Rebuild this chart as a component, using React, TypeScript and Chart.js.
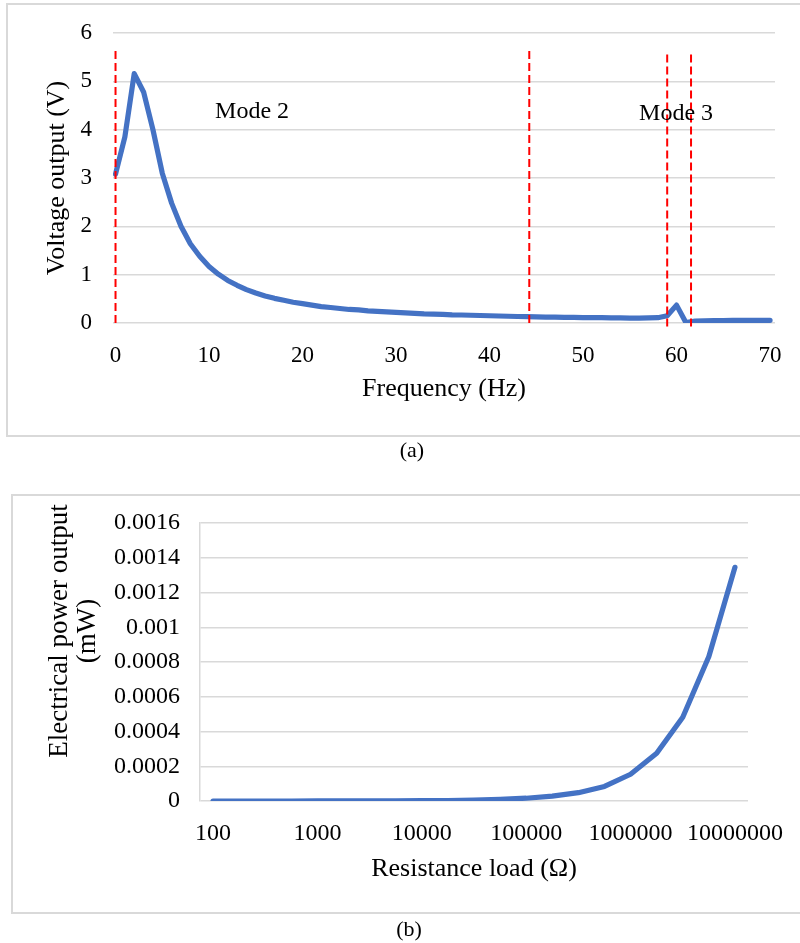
import React, { useEffect, useRef } from "react";
import { Chart, registerables } from "chart.js";

Chart.register(...registerables);

const SERIF = "'Liberation Serif', 'Times New Roman', Times, serif";
const BLUE = "#4472C4";
const RED = "#FF0000";
const GRID = "#d9d9d9";

// ---------- (a) Voltage output vs frequency ----------
const frequencyHz = [
  0, 1, 2, 3, 4, 5, 6, 7, 8, 9, 10, 11, 12, 13, 14, 15, 16, 17, 18, 19, 20,
  21, 22, 23, 24, 25, 26, 27, 28, 29, 30, 31, 32, 33, 34, 35, 36, 37, 38, 39, 40,
  41, 42, 43, 44, 45, 46, 47, 48, 49, 50, 51, 52, 53, 54, 55, 56, 57, 58, 59, 60,
  61, 62, 63, 64, 65, 66, 67, 68, 69, 70,
];
const voltageV = [
  3.08, 3.85, 5.16, 4.78, 4.0, 3.1, 2.48, 2.0, 1.64, 1.38, 1.17,
  1.01, 0.88, 0.78, 0.69, 0.62, 0.56, 0.51, 0.47, 0.43, 0.4,
  0.37, 0.34, 0.32, 0.3, 0.28, 0.27, 0.25, 0.24, 0.23, 0.22,
  0.21, 0.2, 0.19, 0.185, 0.18, 0.17, 0.165, 0.16, 0.155, 0.15,
  0.145, 0.14, 0.135, 0.13, 0.125, 0.12, 0.12, 0.115, 0.115, 0.11,
  0.11, 0.11, 0.105, 0.105, 0.1, 0.1, 0.105, 0.11, 0.15, 0.37,
  0.01, 0.04, 0.045, 0.05, 0.05, 0.055, 0.055, 0.055, 0.055, 0.055,
];
const xTicksA = [0, 10, 20, 30, 40, 50, 60, 70];
const boundaryX = [0, 44.25, 59.0, 61.55];
const boundaryTop = [5.69, 5.7, 5.62, 5.62];
const boundaryBottom = [0, 0, -0.07, -0.07];
const modeNames = ["Mode 2", "Mode 3"];
const modeNameX = [14.6, 59.95];
const modeNameY = [4.24, 4.2];
const xTitleA = "Frequency (Hz)";
const yTitleA = "Voltage output (V)";

// ---------- (b) Electrical power output vs resistance load ----------
const resistanceOhm = [
  "100", "178", "316", "562", "1000", "1778", "3162", "5623", "10000",
  "17783", "31623", "56234", "100000", "177828", "316228", "562341",
  "1000000", "1778279", "3162278", "5623413", "10000000",
];
const powerMW = [
  0.00000002, 0.00000003, 0.00000005, 0.00000009, 0.00000016, 0.0000003,
  0.0000005, 0.0000009, 0.0000016, 0.0000029, 0.000005, 0.000009,
  0.000016, 0.000028, 0.000048, 0.000084, 0.000154, 0.000275, 0.000482,
  0.000832, 0.001345,
];
const xTitleB = "Resistance load (\u03A9)";
const yTitleB = ["Electrical power output", "(mW)"];
const captions = ["(a)", "(b)"];

const tickFont = (size: number) => ({ family: SERIF, size, lineHeight: 1 });

const modeTextPlugin = {
  id: "modeText",
  afterDatasetsDraw(chart: any) {
    const { ctx, scales } = chart;
    ctx.save();
    ctx.font = `24px ${SERIF}`;
    ctx.fillStyle = "#000";
    ctx.textAlign = "center";
    ctx.textBaseline = "alphabetic";
    modeNames.forEach((t, i) => {
      ctx.fillText(
        t,
        scales.x.getPixelForValue(modeNameX[i]),
        scales.y.getPixelForValue(modeNameY[i])
      );
    });
    ctx.restore();
  },
};

const powerTitlePlugin = {
  id: "powerTitle",
  afterDraw(chart: any) {
    const { ctx, chartArea, scales } = chart;
    const cy = (chartArea.top + chartArea.bottom) / 2 - 31;
    ctx.save();
    ctx.translate(scales.y.left + 60, cy);
    ctx.rotate(-Math.PI / 2);
    ctx.font = `27px ${SERIF}`;
    ctx.fillStyle = "#000";
    ctx.textAlign = "center";
    ctx.textBaseline = "middle";
    yTitleB.forEach((line, i) => ctx.fillText(line, 0, i * 28));
    ctx.restore();
  },
};

export default function App() {
  const refA = useRef<HTMLCanvasElement>(null);
  const refB = useRef<HTMLCanvasElement>(null);

  useEffect(() => {
    const chartA = new Chart(refA.current as HTMLCanvasElement, {
      type: "line",
      data: {
        datasets: [
          {
            label: "Voltage",
            data: frequencyHz.map((f, i) => ({ x: f, y: voltageV[i] })),
            borderColor: BLUE,
            borderWidth: 5.2,
            pointRadius: 0,
            tension: 0,
            borderCapStyle: "round",
            borderJoinStyle: "round",
            order: 2,
          } as any,
          ...boundaryX.map(
            (bx, i) =>
              ({
                label: "boundary" + i,
                data: [
                  { x: bx, y: boundaryBottom[i] },
                  { x: bx, y: boundaryTop[i] },
                ],
                borderColor: RED,
                borderWidth: 2,
                borderDash: [8, 4],
                pointRadius: 0,
                clip: false,
                order: 1,
              } as any)
          ),
        ],
      },
      options: {
        animation: false,
        responsive: false,
        maintainAspectRatio: false,
        devicePixelRatio: 1,
        layout: { padding: { top: 33, right: 25, left: 0, bottom: 0 } },
        plugins: { legend: { display: false }, tooltip: { enabled: false } },
        scales: {
          x: {
            type: "linear",
            min: -0.27,
            max: 70.53,
            afterBuildTicks: (s: any) => {
              s.ticks = xTicksA.map((v) => ({ value: v }));
            },
            afterFit: (s: any) => {
              s.height = 117;
            },
            grid: { display: false },
            border: { display: false },
            ticks: {
              font: tickFont(23),
              color: "#000",
              padding: 13,
              maxRotation: 0,
              autoSkip: false,
            },
            title: {
              display: true,
              text: xTitleA,
              color: "#000",
              font: { family: SERIF, size: 26, lineHeight: 1 },
              padding: { top: 0, bottom: 38 },
            },
          },
          y: {
            min: 0,
            max: 6,
            afterFit: (s: any) => {
              s.width = 113;
            },
            ticks: { stepSize: 1, font: tickFont(23), color: "#000", padding: 21 },
            grid: { color: GRID, lineWidth: 1.5, drawTicks: false },
            border: { display: false },
            title: {
              display: true,
              text: yTitleA,
              color: "#000",
              font: { family: SERIF, size: 26, lineHeight: 1 },
              padding: { top: 44, bottom: 0 },
            },
          },
        },
      } as any,
      plugins: [modeTextPlugin],
    });

    const chartB = new Chart(refB.current as HTMLCanvasElement, {
      type: "line",
      data: {
        labels: resistanceOhm,
        datasets: [
          {
            label: "Power",
            data: powerMW,
            borderColor: BLUE,
            borderWidth: 5.2,
            pointRadius: 0,
            tension: 0,
            borderCapStyle: "round",
            borderJoinStyle: "round",
          } as any,
        ],
      },
      options: {
        animation: false,
        responsive: false,
        maintainAspectRatio: false,
        devicePixelRatio: 1,
        layout: { padding: { top: 53, right: 52, left: 0, bottom: 0 } },
        plugins: { legend: { display: false }, tooltip: { enabled: false } },
        scales: {
          x: {
            type: "category",
            offset: true,
            afterFit: (s: any) => {
              s.height = 119;
            },
            grid: { display: false },
            border: { display: false },
            ticks: {
              font: tickFont(24),
              color: "#000",
              padding: 13,
              maxRotation: 0,
              autoSkip: false,
              callback: function (this: any, value: any, index: number) {
                return index % 4 === 0 ? this.getLabelForValue(value) : null;
              },
            },
            title: {
              display: true,
              text: xTitleB,
              color: "#000",
              font: { family: SERIF, size: 26, lineHeight: 1 },
              padding: { top: 0, bottom: 38 },
            },
          },
          y: {
            min: 0,
            max: 0.0016,
            afterFit: (s: any) => {
              s.width = 200;
            },
            ticks: {
              stepSize: 0.0002,
              font: tickFont(24),
              color: "#000",
              padding: 20,
              callback: (v: any) => String(Number(Number(v).toFixed(4))),
            },
            grid: { color: GRID, lineWidth: 1.5, drawTicks: false },
            border: { display: true, color: GRID, width: 1.5 },
          },
        },
      } as any,
      plugins: [powerTitlePlugin],
    });

    return () => {
      chartA.destroy();
      chartB.destroy();
    };
  }, []);

  const captionStyle = (cx: number, top: number): React.CSSProperties => ({
    position: "absolute",
    left: cx - 50,
    top,
    width: 100,
    textAlign: "center",
    fontFamily: SERIF,
    fontSize: 22,
    lineHeight: "24px",
    color: "#000",
  });

  return (
    <div
      style={{
        position: "absolute",
        left: 0,
        top: 0,
        width: 800,
        height: 943,
        overflow: "hidden",
        background: "#fff",
      }}
    >
      <div
        style={{
          position: "absolute",
          left: 6,
          top: 3,
          width: 800,
          height: 434,
          border: `2px solid ${GRID}`,
          boxSizing: "border-box",
        }}
      />
      <canvas
        ref={refA}
        width={800}
        height={440}
        style={{ position: "absolute", left: 0, top: 0, width: 800, height: 440 }}
      />
      <div style={captionStyle(412, 438)}>{captions[0]}</div>
      <div
        style={{
          position: "absolute",
          left: 11,
          top: 494,
          width: 800,
          height: 420,
          border: `2px solid ${GRID}`,
          boxSizing: "border-box",
        }}
      />
      <canvas
        ref={refB}
        width={800}
        height={450}
        style={{ position: "absolute", left: 0, top: 470, width: 800, height: 450 }}
      />
      <div style={captionStyle(409, 917)}>{captions[1]}</div>
    </div>
  );
}
